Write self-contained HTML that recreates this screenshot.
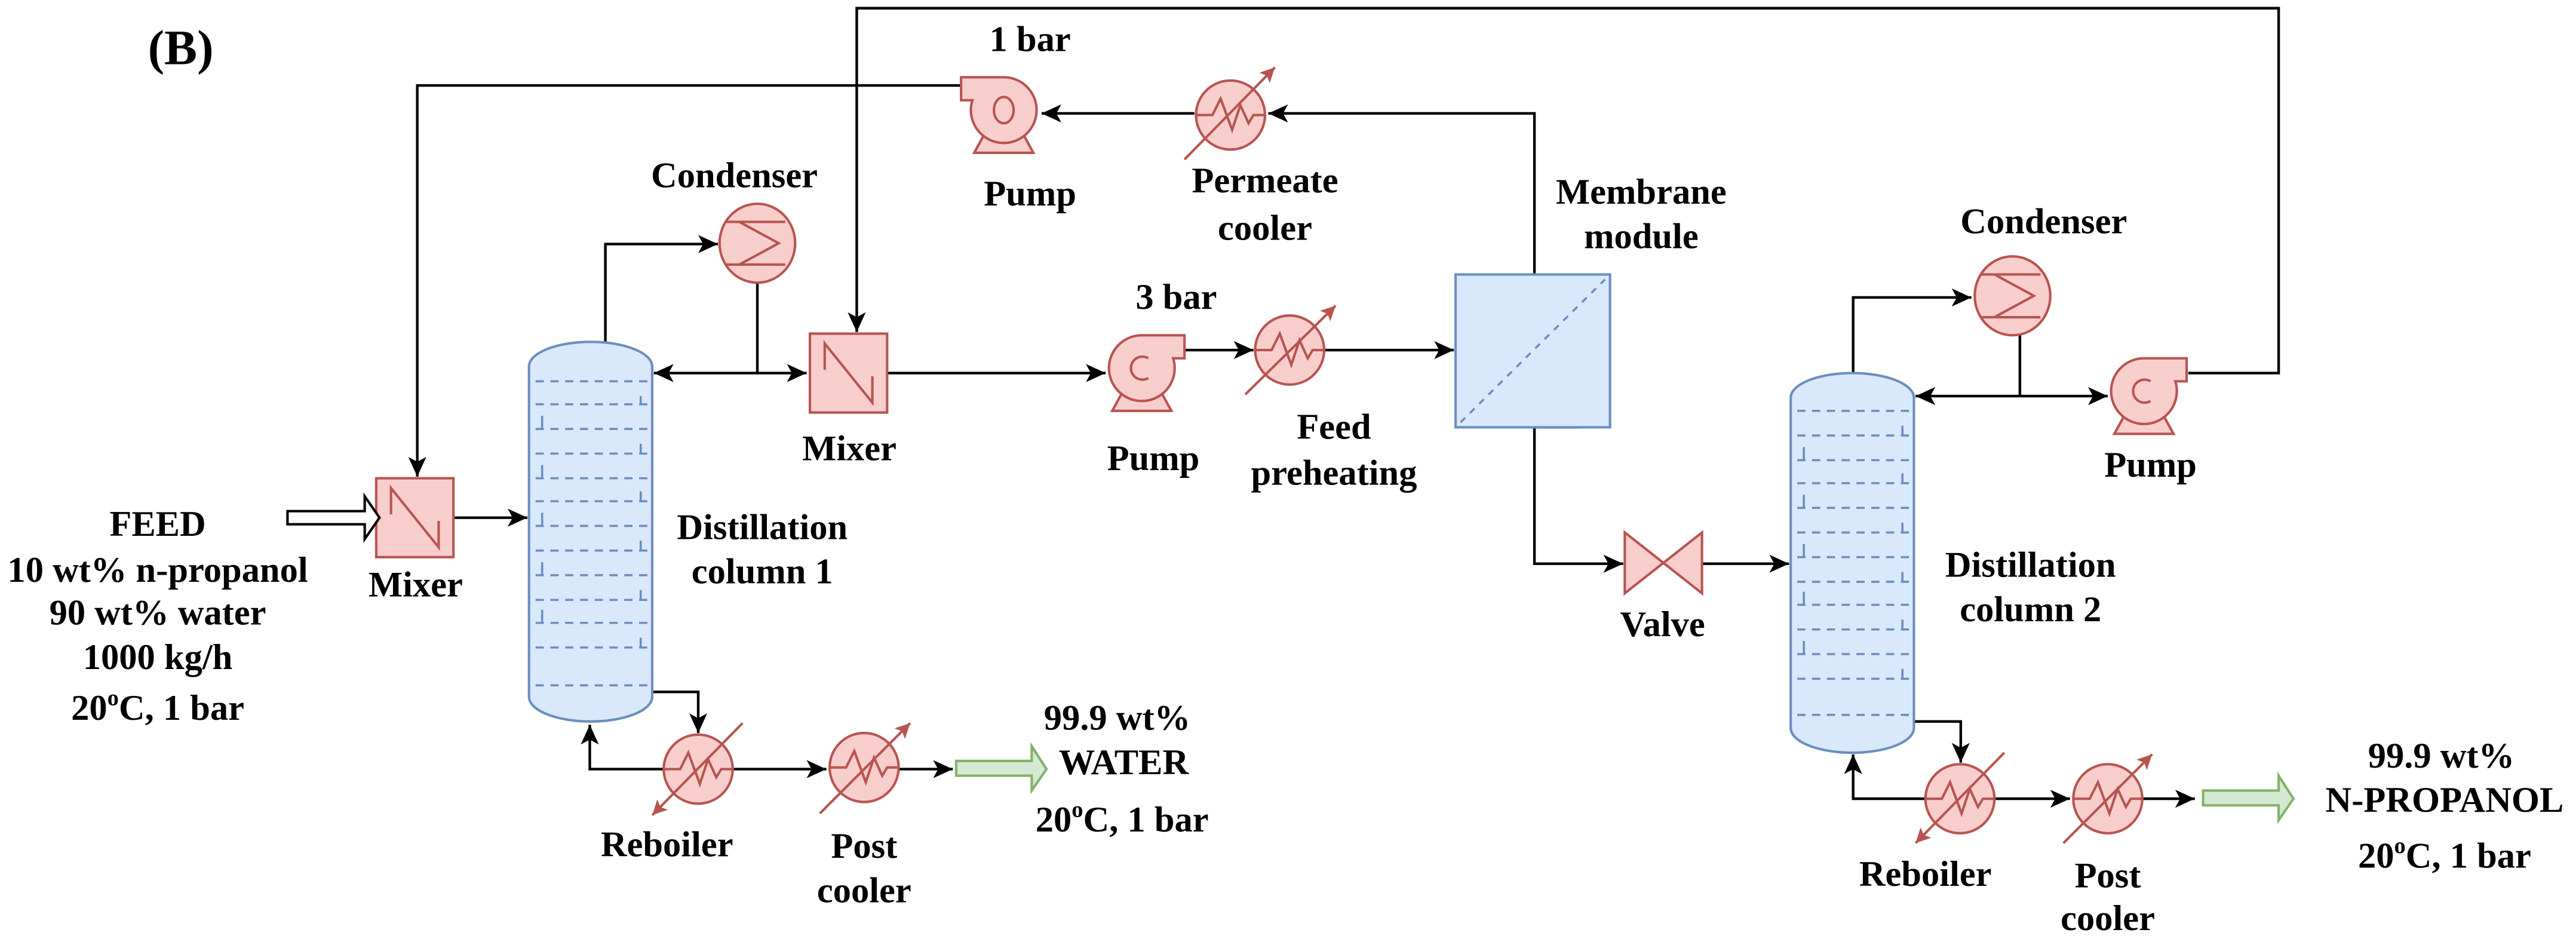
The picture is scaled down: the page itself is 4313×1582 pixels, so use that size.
<!DOCTYPE html>
<html><head><meta charset="utf-8"><style>
html,body{margin:0;padding:0;background:#fff;}
svg{display:block;}
text{font-family:"Liberation Serif",serif;font-weight:bold;font-size:22px;fill:#000;text-anchor:middle;}
</style></head><body>
<svg width="4313" height="1582" viewBox="0 0 1568 575" preserveAspectRatio="none" xmlns="http://www.w3.org/2000/svg">
<defs>
<marker id="a" markerUnits="userSpaceOnUse" markerWidth="14" markerHeight="12" refX="12" refY="5.5" orient="auto-start-reverse"><path d="M0,0 L12,5.5 L0,11 L3,5.5 Z" fill="#000"/></marker>
<marker id="r" markerUnits="userSpaceOnUse" markerWidth="12" markerHeight="10" refX="9" refY="4.5" orient="auto"><path d="M0,0 L9,4.5 L0,9 L2,4.5 Z" fill="#b85450"/></marker>
<g id="hx"><circle r="21" fill="#f8cecc" stroke="#b85450" stroke-width="1.5"/><path d="M-21,0 H-11 L-6,-10 L1,9 L6,-6 L11,5 L14,0 H21" fill="none" stroke="#b85450" stroke-width="1.5"/></g>
<g id="cd"><ellipse rx="23" ry="24" fill="#f8cecc" stroke="#b85450" stroke-width="1.5"/><path d="M-19,-13 H17 M-11,-13 L13,0 L-11,13 M-19,13 H17" fill="none" stroke="#b85450" stroke-width="1.5"/></g>
<g id="pp"><path d="M-12,15 L-18,26 H18 L12,15 Z" fill="#f8cecc" stroke="#b85450" stroke-width="1.5"/><path d="M0,-20 H26 V-6 H19.1 A20,20 0 1 1 0,-20 Z" fill="#f8cecc" stroke="#b85450" stroke-width="1.5"/><path d="M4,-6 A7,7 0 1 0 4,6" fill="none" stroke="#b85450" stroke-width="1.5"/></g>
<g id="pp1"><path d="M-12,15 L-18,26 H18 L12,15 Z" fill="#f8cecc" stroke="#b85450" stroke-width="1.5"/><path d="M0,-20 H26 V-6 H19.1 A20,20 0 1 1 0,-20 Z" fill="#f8cecc" stroke="#b85450" stroke-width="1.5"/><ellipse rx="6" ry="8" fill="none" stroke="#b85450" stroke-width="1.5"/></g>
<g id="mx"><rect width="47" height="48" fill="#f8cecc" stroke="#b85450" stroke-width="1.5"/><path d="M9,22 V6 L38,42 V26" fill="none" stroke="#b85450" stroke-width="1.5"/></g>
</defs>

<text x="110" y="39" style="font-size:30px">(B)</text>

<g fill="none" stroke="#000" stroke-width="1.6">
<path d="M1332,227 H1387 V5 H521.5 V202" marker-end="url(#a)"/>
<path d="M586,52 H254 V290" marker-end="url(#a)"/>
<path d="M727,69 H634" marker-end="url(#a)"/>
<path d="M934,167 V69 H772" marker-end="url(#a)"/>
<path d="M368.5,208 V148.5 H437" marker-end="url(#a)"/>
<path d="M461,172 V227"/>
<path d="M398,227 H491" marker-start="url(#a)" marker-end="url(#a)"/>
<path d="M540,227 H673" marker-end="url(#a)"/>
<path d="M721,213 H763" marker-end="url(#a)"/>
<path d="M806,213 H885" marker-end="url(#a)"/>
<path d="M934,260 H961"/>
<path d="M934,260 V343 H988" marker-end="url(#a)"/>
<path d="M1036,343 H1089" marker-end="url(#a)"/>
<path d="M1128,227 V181 H1200" marker-end="url(#a)"/>
<path d="M1229.5,204 V241"/>
<path d="M1166,241 H1283" marker-start="url(#a)" marker-end="url(#a)"/>
<path d="M276,315 H321" marker-end="url(#a)"/>
<path d="M397,421 H425 V446" marker-end="url(#a)"/>
<path d="M404,468 H359 V441" marker-end="url(#a)"/>
<path d="M446,468 H503" marker-end="url(#a)"/>
<path d="M547,468 H580" marker-end="url(#a)"/>
<path d="M1165,439 H1193.5 V464" marker-end="url(#a)"/>
<path d="M1172,486 H1128 V459" marker-end="url(#a)"/>
<path d="M1214,486 H1260" marker-end="url(#a)"/>
<path d="M1304,486 H1336" marker-end="url(#a)"/>
</g>

<path d="M322,223 A37.5,15 0 0 1 397,223 L397,424 A37.5,15 0 0 1 322,424 Z" fill="#dae8fc" stroke="#6c8ebf" stroke-width="1.5"/>
<path d="M1090,242 A37.5,15 0 0 1 1165,242 L1165,443 A37.5,15 0 0 1 1090,443 Z" fill="#dae8fc" stroke="#6c8ebf" stroke-width="1.5"/>
<g fill="none" stroke="#6c8ebf" stroke-width="1.3" stroke-dasharray="5,4">
<path d="M326,232 H395 M326,246 H395 M326,261 H395 M326,276 H395 M326,291 H395 M326,305 H395 M326,320 H395 M326,335 H395 M326,350 H395 M326,365 H395 M326,379 H395 M326,394 H395 M326,417 H395"/>
<path d="M1094,250 H1163 M1094,265 H1163 M1094,280 H1163 M1094,294 H1163 M1094,309 H1163 M1094,324 H1163 M1094,339 H1163 M1094,354 H1163 M1094,368 H1163 M1094,383 H1163 M1094,398 H1163 M1094,413 H1163 M1094,435 H1163"/>
</g>
<g fill="none" stroke="#6c8ebf" stroke-width="1.3">
<path d="M390,241 V246 M330,253 V261 M390,270 V276 M330,283 V291 M390,299 V305 M330,312 V320 M390,329 V335 M330,342 V350 M390,359 V365 M330,371 V379 M390,388 V394"/>
<path d="M1158,259 V265 M1098,272 V280 M1158,288 V294 M1098,301 V309 M1158,318 V324 M1098,331 V339 M1158,348 V354 M1098,360 V368 M1158,377 V383 M1098,390 V398 M1158,407 V413"/>
</g>

<rect x="886" y="167" width="94" height="93" fill="#dae8fc" stroke="#6c8ebf" stroke-width="1.5"/>
<path d="M889,257 L977,170" stroke="#6c8ebf" stroke-width="1.3" stroke-dasharray="4,4"/>

<path d="M989,324 L1036,361 V324 L989,361 Z" fill="#f8cecc" stroke="#b85450" stroke-width="1.5"/>

<use href="#mx" x="229" y="291"/>
<use href="#mx" x="493" y="203"/>

<use href="#pp1" transform="translate(611,67) scale(-1,1)"/>
<use href="#pp" transform="translate(695,224)"/>
<use href="#pp" transform="translate(1305,238)"/>

<use href="#cd" x="461" y="148"/>
<use href="#cd" x="1225" y="180"/>

<use href="#hx" x="749" y="70"/>
<use href="#hx" x="785" y="213"/>
<use href="#hx" x="425" y="468"/>
<use href="#hx" x="526" y="467"/>
<use href="#hx" x="1193" y="486"/>
<use href="#hx" x="1283" y="486"/>
<g stroke="#b85450" stroke-width="1.5" fill="none">
<path d="M721,97 L776,41" marker-end="url(#r)"/>
<path d="M758,240 L813,186" marker-end="url(#r)"/>
<path d="M452,440 L397,496" marker-end="url(#r)"/>
<path d="M499,495 L554,440" marker-end="url(#r)"/>
<path d="M1220,458 L1166,513" marker-end="url(#r)"/>
<path d="M1256,513 L1310,459" marker-end="url(#r)"/>
</g>

<path d="M175,311 H222 V302 L231,315 L222,328 V319 H175 Z" fill="#fff" stroke="#000" stroke-width="1.5"/>
<path d="M582,463 H628 V454 L637,468 L628,481 V472 H582 Z" fill="#d5e8d4" stroke="#82b366" stroke-width="1.5"/>
<path d="M1341,481 H1387 V472 L1396,486 L1387,499 V490 H1341 Z" fill="#d5e8d4" stroke="#82b366" stroke-width="1.5"/>

<text x="627" y="31">1 bar</text>
<text x="627" y="125">Pump</text>
<text x="770" y="117">Permeate</text>
<text x="770" y="146">cooler</text>
<text x="447" y="114">Condenser</text>
<text x="999" y="124">Membrane</text>
<text x="999" y="151">module</text>
<text x="716" y="188">3 bar</text>
<text x="702" y="286">Pump</text>
<text x="812" y="267">Feed</text>
<text x="812" y="295">preheating</text>
<text x="517" y="280">Mixer</text>
<text x="253" y="363">Mixer</text>
<text x="464" y="328">Distillation</text>
<text x="464" y="355">column 1</text>
<text x="1244" y="142">Condenser</text>
<text x="1309" y="290">Pump</text>
<text x="1012" y="387">Valve</text>
<text x="1236" y="351">Distillation</text>
<text x="1236" y="378">column 2</text>
<text x="96" y="326">FEED</text>
<text x="96" y="354">10 wt% n-propanol</text>
<text x="96" y="380">90 wt% water</text>
<text x="96" y="407">1000 kg/h</text>
<text x="96" y="438">20<tspan dy="-9" style="font-size:14px">o</tspan><tspan dy="9">C, 1 bar</tspan></text>
<text x="680" y="444">99.9 wt%</text>
<text x="684" y="471">WATER</text>
<text x="683" y="506">20<tspan dy="-9" style="font-size:14px">o</tspan><tspan dy="9">C, 1 bar</tspan></text>
<text x="406" y="521">Reboiler</text>
<text x="526" y="522">Post</text>
<text x="526" y="549">cooler</text>
<text x="1486" y="467">99.9 wt%</text>
<text x="1488" y="494">N-PROPANOL</text>
<text x="1488" y="528">20<tspan dy="-9" style="font-size:14px">o</tspan><tspan dy="9">C, 1 bar</tspan></text>
<text x="1172" y="539">Reboiler</text>
<text x="1283" y="540">Post</text>
<text x="1283" y="566">cooler</text>
</svg>
</body></html>
